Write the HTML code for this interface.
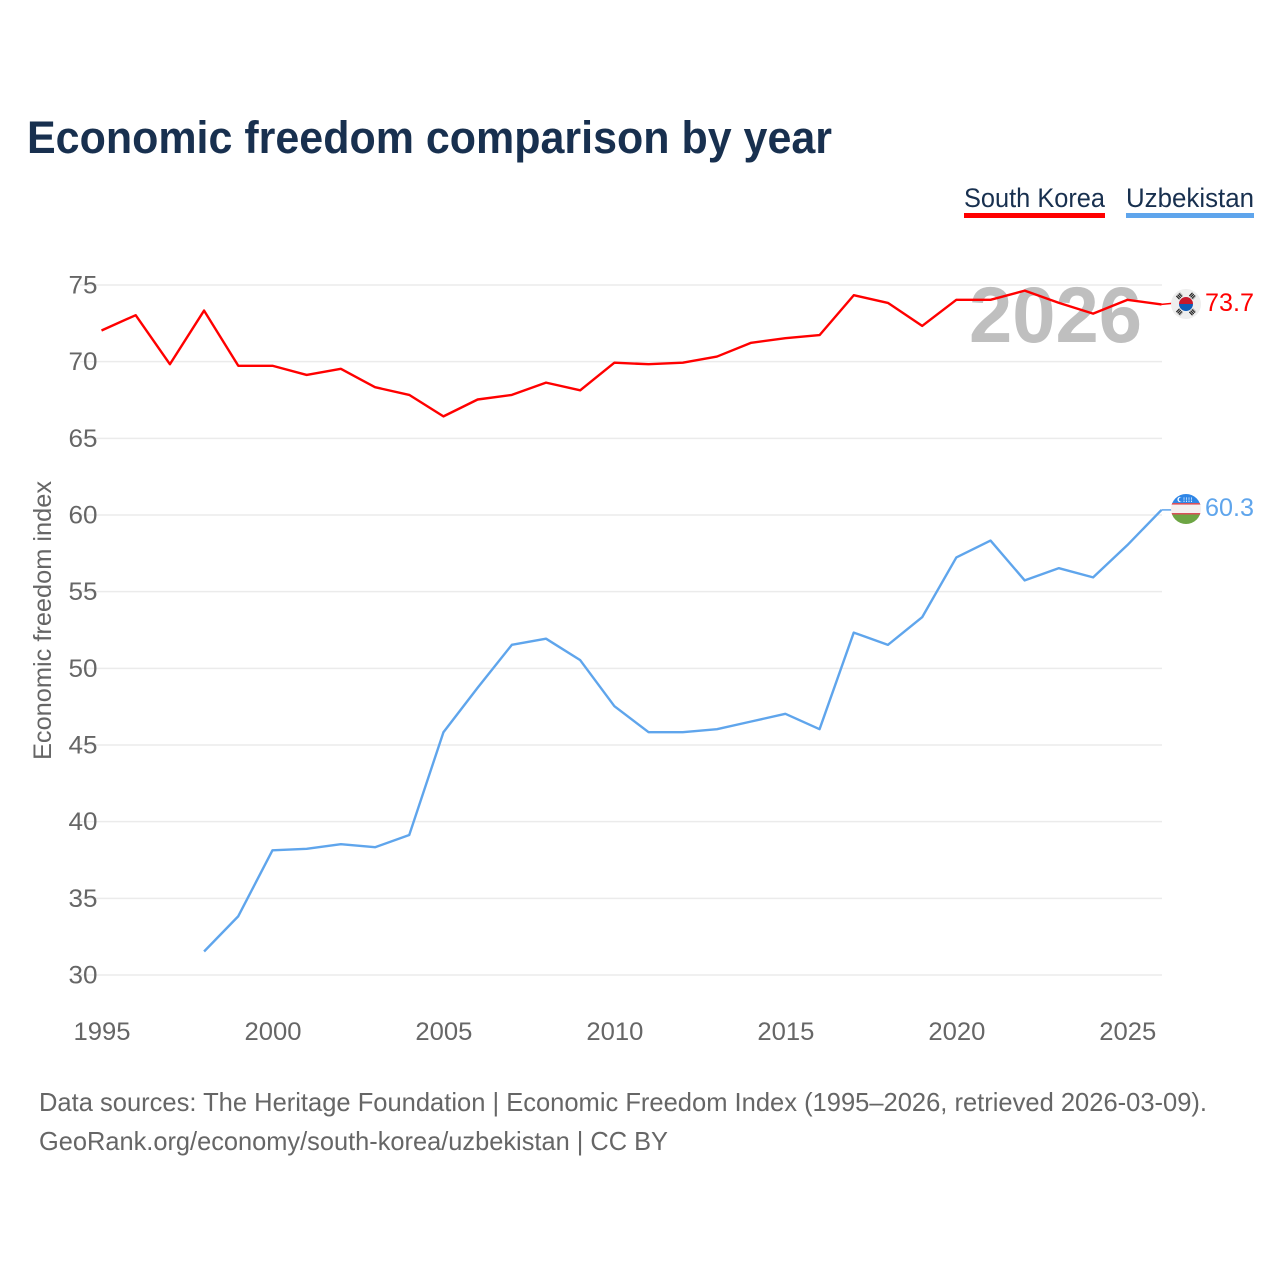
<!DOCTYPE html>
<html lang="en">
<head>
<meta charset="utf-8">
<title>Economic freedom comparison by year</title>
<style>
html,body{margin:0;padding:0;background:#fff}
svg{display:block}
text{font-family:"Liberation Sans",sans-serif}
</style>
</head>
<body>
<svg id="chart" xmlns="http://www.w3.org/2000/svg" width="1280" height="1280" viewBox="0 0 1280 1280">
  <rect width="1280" height="1280" fill="#fff"/>
  <text x="27" y="153" font-size="45" font-weight="700" fill="#18304f" textLength="805" lengthAdjust="spacingAndGlyphs">Economic freedom comparison by year</text>

  <g>
    <text x="964" y="207" font-size="27" fill="#18304f" textLength="141" lengthAdjust="spacingAndGlyphs">South Korea</text>
    <rect x="964" y="213" width="141" height="5" fill="#ff0000"/>
  </g>
  <g>
    <text x="1126" y="207" font-size="27" fill="#18304f" textLength="128" lengthAdjust="spacingAndGlyphs">Uzbekistan</text>
    <rect x="1126" y="213" width="128" height="5" fill="#5fa5ec"/>
  </g>

  <g id="grid"></g>
  <text x="969" y="342" font-size="79" font-weight="700" fill="#bfbfbf" textLength="173" lengthAdjust="spacingAndGlyphs">2026</text>
  <g id="yticks"></g>
  <g id="xticks"></g>
  <text transform="translate(51,760) rotate(-90)" font-size="25" fill="#666" textLength="279" lengthAdjust="spacingAndGlyphs">Economic freedom index</text>

  <g id="series"></g>

  <g>
    <circle cx="1186" cy="304" r="15" fill="#eeeeee"/>
    <path d="M1179 304a7 7 0 0 1 14 0z" fill="#c8182c"/>
    <path d="M1179 304a7 7 0 0 0 14 0z" fill="#0f5cb8"/>
    <g stroke="#222" stroke-width="4.500" stroke-dasharray="1.200 .6">
      <path d="M1176.500 297l4 -4" transform="translate(1 1)"/>
      <path d="M1191.500 293l4 4" transform="translate(-1 1)"/>
      <path d="M1176.500 311l4 4" transform="translate(1 -1)"/>
      <path d="M1191.500 315l4 -4" transform="translate(-1 -1)"/>
    </g>
  </g>
  <g>
    <defs><clipPath id="uz-clip"><circle cx="1186" cy="509" r="15"/></clipPath></defs>
    <g clip-path="url(#uz-clip)">
      <rect x="1171" y="494" width="30" height="11" fill="#2f86e6"/>
      <rect x="1171" y="504" width="30" height="10" fill="#f4f0f0"/>
      <rect x="1171" y="503" width="30" height="1.6" fill="#d9505a"/>
      <rect x="1171" y="513" width="30" height="1.6" fill="#d9505a"/>
      <rect x="1171" y="514.5" width="30" height="10" fill="#6da544"/>
      <circle cx="1180" cy="499.500" r="2.600" fill="#fff"/>
      <circle cx="1181" cy="499.500" r="2.200" fill="#2f86e6"/>
      <path d="M1184 502v-5M1186.500 502v-5M1189 502v-5M1191.500 502v-5" stroke="#dfeeff" stroke-width="1" stroke-dasharray="1 .6"/>
    </g>
  </g>
  <text x="1205" y="311" font-size="25" fill="#ff0000" textLength="49" lengthAdjust="spacingAndGlyphs">73.7</text>
  <text x="1205" y="516" font-size="25" fill="#5fa5ec" textLength="49" lengthAdjust="spacingAndGlyphs">60.3</text>

  <text x="39" y="1111" font-size="26" fill="#666" textLength="1168" lengthAdjust="spacingAndGlyphs">Data sources: The Heritage Foundation | Economic Freedom Index (1995–2026, retrieved 2026-03-09).</text>
  <text x="39" y="1150" font-size="26" fill="#666" textLength="629" lengthAdjust="spacingAndGlyphs">GeoRank.org/economy/south-korea/uzbekistan | CC BY</text>
</svg>
<script>
const years = [1995,1996,1997,1998,1999,2000,2001,2002,2003,2004,2005,2006,2007,2008,2009,2010,2011,2012,2013,2014,2015,2016,2017,2018,2019,2020,2021,2022,2023,2024,2025,2026];
const southKorea = [72.0,73.0,69.8,73.3,69.7,69.7,69.1,69.5,68.3,67.8,66.4,67.5,67.8,68.6,68.1,69.9,69.8,69.9,70.3,71.2,71.5,71.7,74.3,73.8,72.3,74.0,74.0,74.6,73.8,73.1,74.0,73.7];
const uzbekistan = [null,null,null,31.5,33.8,38.1,38.2,38.5,38.3,39.1,45.8,48.7,51.5,51.9,50.5,47.5,45.8,45.8,46.0,46.5,47.0,46.0,52.3,51.5,53.3,57.2,58.3,55.7,56.5,55.9,58.0,60.3];
const yTickLabels = [30,35,40,45,50,55,60,65,70,75];
const xTickLabels = [1995,2000,2005,2010,2015,2020,2025];

const NS = 'http://www.w3.org/2000/svg';
const xScale = function (year) { return 101.5 + (year - 1995) * (1161.5 - 101.5) / (2026 - 1995); };
const yScale = function (value) { return 974.5 - (value - 30) * (974.5 - 284.5) / (75 - 30); };

function make(tag, parent, attrs, content) {
  const el = document.createElementNS(NS, tag);
  Object.keys(attrs).forEach(function (k) { el.setAttribute(k, attrs[k]); });
  if (content !== undefined) el.textContent = content;
  parent.appendChild(el);
  return el;
}

const grid = document.getElementById('grid');
const yticks = document.getElementById('yticks');
const xticks = document.getElementById('xticks');
const seriesGroup = document.getElementById('series');

yTickLabels.forEach(function (t) {
  const line = make('line', grid, { x1: 80, x2: 1162, y1: yScale(t) + 0.5, y2: yScale(t) + 0.5, stroke: '#ebebeb', 'stroke-width': 1.5 });
  
  
  const label = make('text', yticks, { x: 97.5, y: yScale(t) + 9, 'text-anchor': 'end', 'font-size': 25, fill: '#666', textLength: 29, lengthAdjust: 'spacingAndGlyphs' }, String(t));
  
  
});

xTickLabels.forEach(function (t) {
  const label = make('text', xticks, { x: xScale(t) + 0.5, y: 1040, 'text-anchor': 'middle', 'font-size': 25, fill: '#666', textLength: 57, lengthAdjust: 'spacingAndGlyphs' }, String(t));
  
  
});

function pathFor(values) {
  const parts = [];
  values.forEach(function (v, i) {
    if (v === null) return;
    parts.push((parts.length ? 'L' : 'M') + xScale(years[i]).toFixed(2) + ' ' + yScale(v).toFixed(2));
  });
  return parts.join('');
}

const lineKorea = make('path', seriesGroup, { d: pathFor(southKorea), fill: 'none', stroke: '#ff0000', 'stroke-width': 2.4, 'stroke-linejoin': 'round' });



const lineUz = make('path', seriesGroup, { d: pathFor(uzbekistan), fill: 'none', stroke: '#5fa5ec', 'stroke-width': 2.4, 'stroke-linejoin': 'round' });



const leaderKorea = make('line', seriesGroup, { x1: xScale(2026), y1: yScale(southKorea[31]), x2: 1172, y2: yScale(southKorea[31]) - 1, stroke: '#ff0000', 'stroke-width': 1.5 });



const leaderUz = make('line', seriesGroup, { x1: xScale(2026), y1: yScale(uzbekistan[31]), x2: 1172, y2: yScale(uzbekistan[31]), stroke: '#5fa5ec', 'stroke-width': 1.5 });


</script>
</body>
</html>
